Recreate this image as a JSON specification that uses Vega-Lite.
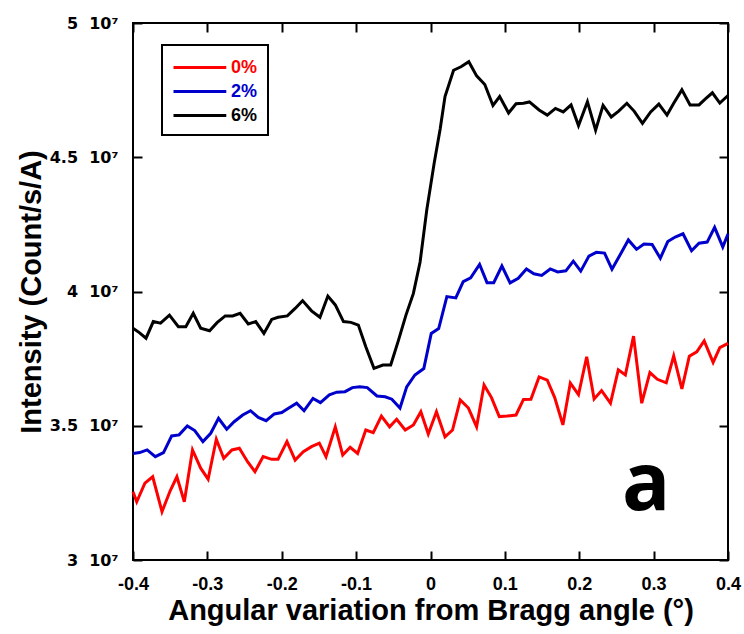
{
  "$schema": "https://vega.github.io/schema/vega-lite/v6.json",
  "width": 595,
  "height": 537,
  "autosize": {"type": "none"},
  "padding": {"left": 133, "top": 23, "right": 16, "bottom": 74},
  "background": "white",
  "config": {
    "view": {"stroke": "black", "strokeWidth": 2},
    "font": "Liberation Sans",
    "axis": {
      "domain": false,
      "grid": false,
      "tickSize": -9,
      "tickWidth": 2,
      "tickColor": "black",
      "labelFont": "Liberation Sans",
      "labelFontSize": 18,
      "labelFontWeight": "bold",
      "labelColor": "black",
      "titleFont": "Liberation Sans",
      "titleFontSize": 29,
      "titleFontWeight": "bold",
      "titleColor": "black"
    }
  },
  "datasets": {
    "series": [
      {"s":"0%","x":-0.4,"y":3.254e7},{"s":"0%","x":-0.395,"y":3.217e7},{"s":"0%","x":-0.384,"y":3.286e7},{"s":"0%","x":-0.3735,"y":3.310e7},{"s":"0%","x":-0.361,"y":3.180e7},{"s":"0%","x":-0.350,"y":3.258e7},{"s":"0%","x":-0.341,"y":3.310e7},{"s":"0%","x":-0.331,"y":3.217e7},{"s":"0%","x":-0.320,"y":3.410e7},{"s":"0%","x":-0.309,"y":3.342e7},{"s":"0%","x":-0.299,"y":3.301e7},{"s":"0%","x":-0.288,"y":3.450e7},{"s":"0%","x":-0.278,"y":3.379e7},{"s":"0%","x":-0.267,"y":3.410e7},{"s":"0%","x":-0.257,"y":3.416e7},{"s":"0%","x":-0.246,"y":3.366e7},{"s":"0%","x":-0.236,"y":3.329e7},{"s":"0%","x":-0.225,"y":3.385e7},{"s":"0%","x":-0.2135,"y":3.375e7},{"s":"0%","x":-0.205,"y":3.375e7},{"s":"0%","x":-0.193,"y":3.441e7},{"s":"0%","x":-0.182,"y":3.372e7},{"s":"0%","x":-0.171,"y":3.403e7},{"s":"0%","x":-0.160,"y":3.422e7},{"s":"0%","x":-0.1495,"y":3.435e7},{"s":"0%","x":-0.1405,"y":3.385e7},{"s":"0%","x":-0.128,"y":3.496e7},{"s":"0%","x":-0.118,"y":3.391e7},{"s":"0%","x":-0.108,"y":3.420e7},{"s":"0%","x":-0.098,"y":3.397e7},{"s":"0%","x":-0.087,"y":3.484e7},{"s":"0%","x":-0.077,"y":3.474e7},{"s":"0%","x":-0.066,"y":3.536e7},{"s":"0%","x":-0.055,"y":3.496e7},{"s":"0%","x":-0.0455,"y":3.524e7},{"s":"0%","x":-0.034,"y":3.484e7},{"s":"0%","x":-0.023,"y":3.503e7},{"s":"0%","x":-0.013,"y":3.552e7},{"s":"0%","x":-0.003,"y":3.469e7},{"s":"0%","x":0.008,"y":3.552e7},{"s":"0%","x":0.0195,"y":3.459e7},{"s":"0%","x":0.0296,"y":3.484e7},{"s":"0%","x":0.040,"y":3.596e7},{"s":"0%","x":0.051,"y":3.566e7},{"s":"0%","x":0.062,"y":3.496e7},{"s":"0%","x":0.072,"y":3.652e7},{"s":"0%","x":0.082,"y":3.605e7},{"s":"0%","x":0.0925,"y":3.534e7},{"s":"0%","x":0.103,"y":3.536e7},{"s":"0%","x":0.115,"y":3.540e7},{"s":"0%","x":0.125,"y":3.598e7},{"s":"0%","x":0.135,"y":3.599e7},{"s":"0%","x":0.146,"y":3.682e7},{"s":"0%","x":0.157,"y":3.670e7},{"s":"0%","x":0.167,"y":3.605e7},{"s":"0%","x":0.178,"y":3.503e7},{"s":"0%","x":0.188,"y":3.659e7},{"s":"0%","x":0.199,"y":3.616e7},{"s":"0%","x":0.210,"y":3.757e7},{"s":"0%","x":0.220,"y":3.600e7},{"s":"0%","x":0.230,"y":3.631e7},{"s":"0%","x":0.242,"y":3.584e7},{"s":"0%","x":0.2525,"y":3.708e7},{"s":"0%","x":0.262,"y":3.689e7},{"s":"0%","x":0.273,"y":3.834e7},{"s":"0%","x":0.284,"y":3.584e7},{"s":"0%","x":0.295,"y":3.698e7},{"s":"0%","x":0.305,"y":3.673e7},{"s":"0%","x":0.317,"y":3.660e7},{"s":"0%","x":0.327,"y":3.760e7},{"s":"0%","x":0.338,"y":3.637e7},{"s":"0%","x":0.348,"y":3.759e7},{"s":"0%","x":0.358,"y":3.775e7},{"s":"0%","x":0.368,"y":3.816e7},{"s":"0%","x":0.380,"y":3.736e7},{"s":"0%","x":0.389,"y":3.791e7},{"s":"0%","x":0.4,"y":3.807e7},
      {"s":"2%","x":-0.4,"y":3.397e7},{"s":"2%","x":-0.391,"y":3.400e7},{"s":"2%","x":-0.381,"y":3.410e7},{"s":"2%","x":-0.370,"y":3.385e7},{"s":"2%","x":-0.359,"y":3.400e7},{"s":"2%","x":-0.348,"y":3.462e7},{"s":"2%","x":-0.338,"y":3.466e7},{"s":"2%","x":-0.327,"y":3.499e7},{"s":"2%","x":-0.317,"y":3.482e7},{"s":"2%","x":-0.306,"y":3.441e7},{"s":"2%","x":-0.2955,"y":3.472e7},{"s":"2%","x":-0.285,"y":3.528e7},{"s":"2%","x":-0.274,"y":3.487e7},{"s":"2%","x":-0.264,"y":3.515e7},{"s":"2%","x":-0.2525,"y":3.540e7},{"s":"2%","x":-0.242,"y":3.556e7},{"s":"2%","x":-0.2315,"y":3.531e7},{"s":"2%","x":-0.221,"y":3.519e7},{"s":"2%","x":-0.210,"y":3.544e7},{"s":"2%","x":-0.200,"y":3.549e7},{"s":"2%","x":-0.191,"y":3.565e7},{"s":"2%","x":-0.180,"y":3.584e7},{"s":"2%","x":-0.170,"y":3.556e7},{"s":"2%","x":-0.158,"y":3.602e7},{"s":"2%","x":-0.148,"y":3.586e7},{"s":"2%","x":-0.136,"y":3.615e7},{"s":"2%","x":-0.126,"y":3.625e7},{"s":"2%","x":-0.115,"y":3.627e7},{"s":"2%","x":-0.105,"y":3.642e7},{"s":"2%","x":-0.095,"y":3.645e7},{"s":"2%","x":-0.085,"y":3.642e7},{"s":"2%","x":-0.072,"y":3.611e7},{"s":"2%","x":-0.061,"y":3.608e7},{"s":"2%","x":-0.052,"y":3.599e7},{"s":"2%","x":-0.041,"y":3.566e7},{"s":"2%","x":-0.032,"y":3.645e7},{"s":"2%","x":-0.021,"y":3.689e7},{"s":"2%","x":-0.009,"y":3.713e7},{"s":"2%","x":0.001,"y":3.844e7},{"s":"2%","x":0.011,"y":3.862e7},{"s":"2%","x":0.022,"y":3.981e7},{"s":"2%","x":0.034,"y":3.976e7},{"s":"2%","x":0.044,"y":4.037e7},{"s":"2%","x":0.054,"y":4.051e7},{"s":"2%","x":0.066,"y":4.101e7},{"s":"2%","x":0.076,"y":4.033e7},{"s":"2%","x":0.085,"y":4.033e7},{"s":"2%","x":0.096,"y":4.095e7},{"s":"2%","x":0.107,"y":4.032e7},{"s":"2%","x":0.118,"y":4.049e7},{"s":"2%","x":0.129,"y":4.084e7},{"s":"2%","x":0.139,"y":4.066e7},{"s":"2%","x":0.1495,"y":4.060e7},{"s":"2%","x":0.161,"y":4.084e7},{"s":"2%","x":0.171,"y":4.073e7},{"s":"2%","x":0.182,"y":4.077e7},{"s":"2%","x":0.192,"y":4.113e7},{"s":"2%","x":0.202,"y":4.076e7},{"s":"2%","x":0.213,"y":4.132e7},{"s":"2%","x":0.223,"y":4.146e7},{"s":"2%","x":0.234,"y":4.143e7},{"s":"2%","x":0.244,"y":4.083e7},{"s":"2%","x":0.255,"y":4.137e7},{"s":"2%","x":0.266,"y":4.192e7},{"s":"2%","x":0.277,"y":4.157e7},{"s":"2%","x":0.287,"y":4.177e7},{"s":"2%","x":0.298,"y":4.175e7},{"s":"2%","x":0.309,"y":4.124e7},{"s":"2%","x":0.319,"y":4.186e7},{"s":"2%","x":0.329,"y":4.203e7},{"s":"2%","x":0.3395,"y":4.215e7},{"s":"2%","x":0.351,"y":4.152e7},{"s":"2%","x":0.361,"y":4.180e7},{"s":"2%","x":0.372,"y":4.184e7},{"s":"2%","x":0.382,"y":4.239e7},{"s":"2%","x":0.393,"y":4.166e7},{"s":"2%","x":0.4,"y":4.214e7},
      {"s":"6%","x":-0.4,"y":3.863e7},{"s":"6%","x":-0.3915,"y":3.847e7},{"s":"6%","x":-0.3825,"y":3.826e7},{"s":"6%","x":-0.3727,"y":3.888e7},{"s":"6%","x":-0.363,"y":3.882e7},{"s":"6%","x":-0.351,"y":3.912e7},{"s":"6%","x":-0.339,"y":3.869e7},{"s":"6%","x":-0.329,"y":3.869e7},{"s":"6%","x":-0.319,"y":3.919e7},{"s":"6%","x":-0.309,"y":3.863e7},{"s":"6%","x":-0.297,"y":3.854e7},{"s":"6%","x":-0.287,"y":3.884e7},{"s":"6%","x":-0.276,"y":3.909e7},{"s":"6%","x":-0.266,"y":3.909e7},{"s":"6%","x":-0.256,"y":3.919e7},{"s":"6%","x":-0.245,"y":3.879e7},{"s":"6%","x":-0.235,"y":3.888e7},{"s":"6%","x":-0.224,"y":3.844e7},{"s":"6%","x":-0.2135,"y":3.896e7},{"s":"6%","x":-0.205,"y":3.904e7},{"s":"6%","x":-0.1925,"y":3.909e7},{"s":"6%","x":-0.182,"y":3.937e7},{"s":"6%","x":-0.172,"y":3.966e7},{"s":"6%","x":-0.160,"y":3.928e7},{"s":"6%","x":-0.1486,"y":3.904e7},{"s":"6%","x":-0.138,"y":3.983e7},{"s":"6%","x":-0.128,"y":3.950e7},{"s":"6%","x":-0.117,"y":3.888e7},{"s":"6%","x":-0.107,"y":3.885e7},{"s":"6%","x":-0.097,"y":3.875e7},{"s":"6%","x":-0.087,"y":3.794e7},{"s":"6%","x":-0.076,"y":3.714e7},{"s":"6%","x":-0.064,"y":3.726e7},{"s":"6%","x":-0.0535,"y":3.726e7},{"s":"6%","x":-0.043,"y":3.819e7},{"s":"6%","x":-0.033,"y":3.912e7},{"s":"6%","x":-0.023,"y":3.993e7},{"s":"6%","x":-0.014,"y":4.110e7},{"s":"6%","x":-0.005,"y":4.304e7},{"s":"6%","x":0.005,"y":4.479e7},{"s":"6%","x":0.013,"y":4.605e7},{"s":"6%","x":0.0195,"y":4.726e7},{"s":"6%","x":0.031,"y":4.824e7},{"s":"6%","x":0.041,"y":4.837e7},{"s":"6%","x":0.0515,"y":4.856e7},{"s":"6%","x":0.062,"y":4.803e7},{"s":"6%","x":0.073,"y":4.771e7},{"s":"6%","x":0.084,"y":4.693e7},{"s":"6%","x":0.093,"y":4.726e7},{"s":"6%","x":0.105,"y":4.665e7},{"s":"6%","x":0.115,"y":4.699e7},{"s":"6%","x":0.125,"y":4.701e7},{"s":"6%","x":0.133,"y":4.706e7},{"s":"6%","x":0.146,"y":4.676e7},{"s":"6%","x":0.157,"y":4.657e7},{"s":"6%","x":0.168,"y":4.682e7},{"s":"6%","x":0.1785,"y":4.669e7},{"s":"6%","x":0.189,"y":4.695e7},{"s":"6%","x":0.199,"y":4.618e7},{"s":"6%","x":0.211,"y":4.707e7},{"s":"6%","x":0.222,"y":4.601e7},{"s":"6%","x":0.232,"y":4.693e7},{"s":"6%","x":0.243,"y":4.650e7},{"s":"6%","x":0.253,"y":4.672e7},{"s":"6%","x":0.264,"y":4.701e7},{"s":"6%","x":0.274,"y":4.671e7},{"s":"6%","x":0.285,"y":4.626e7},{"s":"6%","x":0.296,"y":4.669e7},{"s":"6%","x":0.307,"y":4.698e7},{"s":"6%","x":0.318,"y":4.657e7},{"s":"6%","x":0.327,"y":4.701e7},{"s":"6%","x":0.338,"y":4.751e7},{"s":"6%","x":0.349,"y":4.695e7},{"s":"6%","x":0.361,"y":4.695e7},{"s":"6%","x":0.370,"y":4.718e7},{"s":"6%","x":0.379,"y":4.740e7},{"s":"6%","x":0.389,"y":4.702e7},{"s":"6%","x":0.4,"y":4.730e7}
    ],
    "ann": [{"x": 0.29, "y": 3.186e7, "text": "a"}]
  },
  "layer": [
    {
      "data": {"name": "series"},
      "mark": {"type": "line", "strokeWidth": 3},
      "encoding": {
        "x": {
          "field": "x", "type": "quantitative",
          "scale": {"domain": [-0.4, 0.4], "nice": false, "zero": false},
          "axis": {
            "orient": "bottom",
            "values": [-0.4, -0.3, -0.2, -0.1, 0, 0.1, 0.2, 0.3, 0.4],
            "labelExpr": "toString(round(datum.value*10)/10)",
            "labelPadding": 24,
            "labelFlush": false,
            "title": "Angular variation from Bragg angle (°)",
            "titlePadding": 3
          }
        },
        "y": {
          "field": "y", "type": "quantitative",
          "scale": {"domain": [30000000, 50000000], "nice": false, "zero": false},
          "axis": {
            "orient": "left",
            "values": [30000000, 35000000, 40000000, 45000000, 50000000],
            "labelExpr": "toString(datum.value/10000000) + '\u00a0\u00a010\u2077'",
            "labelFont": "DejaVu Sans",
            "labelFontSize": 16,
            "labelPadding": 24,
            "labelFlush": false,
            "title": "Intensity (Count/s/A)",
            "titlePadding": 3
          }
        },
        "color": {
          "field": "s", "type": "nominal",
          "scale": {"domain": ["0%", "2%", "6%"], "range": ["#ff0000", "#0000cc", "#000000"]},
          "legend": {
            "orient": "none",
            "legendX": 29,
            "legendY": 22,
            "title": null,
            "strokeColor": "black",
            "fillColor": "white",
            "padding": 10,
            "symbolType": "M-1,0H3.8",
            "symbolSize": 484,
            "symbolStrokeWidth": 3,
            "labelFont": "Liberation Sans",
            "labelFontSize": 18,
            "labelFontWeight": "bold",
            "labelOffset": 34,
            "rowPadding": 2,
            "encode": {
              "legend": {"update": {"strokeWidth": {"value": 2}}},
              "labels": {"update": {"fill": {"signal": "datum.value === '0%' ? '#ff0000' : datum.value === '2%' ? '#0000cc' : '#000000'"}}}
            }
          }
        }
      }
    },
    {
      "data": {"name": "series"},
      "mark": {"type": "line", "opacity": 0},
      "encoding": {
        "x": {
          "field": "x", "type": "quantitative",
          "axis": {"orient": "top", "values": [-0.4, -0.3, -0.2, -0.1, 0, 0.1, 0.2, 0.3, 0.4], "labels": false, "title": null}
        },
        "y": {
          "field": "y", "type": "quantitative",
          "axis": {"orient": "right", "values": [30000000, 35000000, 40000000, 45000000, 50000000], "labels": false, "title": null}
        },
        "detail": {"field": "s", "type": "nominal"}
      }
    },
    {
      "data": {"name": "ann"},
      "mark": {"type": "text", "font": "Open Sans", "fontWeight": "bold", "fontSize": 80, "baseline": "alphabetic", "align": "center", "color": "black"},
      "encoding": {
        "x": {"field": "x", "type": "quantitative", "axis": null},
        "y": {"field": "y", "type": "quantitative", "axis": null},
        "text": {"field": "text"}
      }
    }
  ],
  "resolve": {"axis": {"x": "independent", "y": "independent"}}
}
